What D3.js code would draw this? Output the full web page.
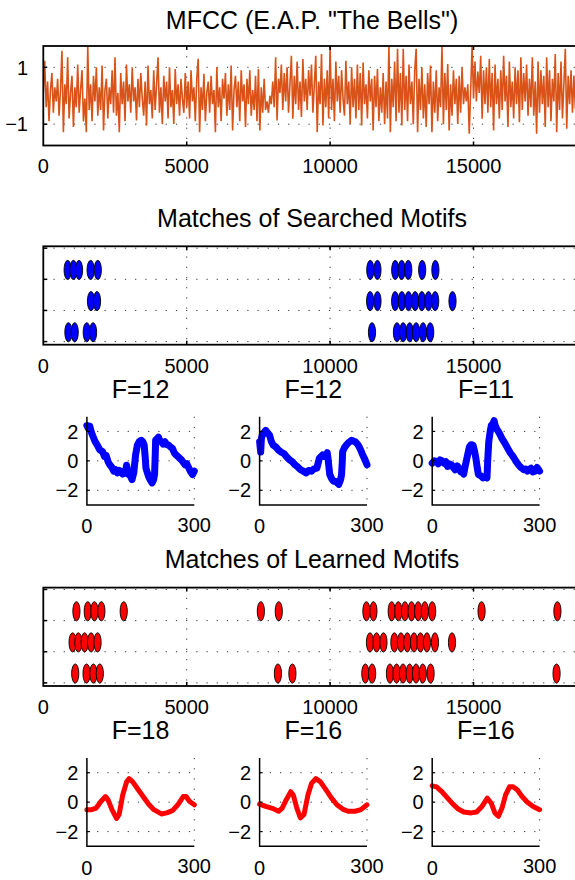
<!DOCTYPE html>
<html>
<head>
<meta charset="utf-8">
<script src="https://cdn.jsdelivr.net/npm/d3@7"></script>
<style>
  body { margin: 0; background: #fff; }
  text { font-family: "Liberation Sans", Arial, Helvetica, sans-serif; fill: #000; }
</style>
</head>
<body>
<div id="chart"></div>
<script>
// ---- data ----
const mfccStep = 50; // samples between stored values
const mfcc = [
  0.1, 1.23, -0.4, 0.5, -0.9, 0.2, 0.8, -0.6, 0.3, -0.2,
  0.6, -0.7, 0.2, 1.58, -1.28, 0.4, -0.3, 1.35, -0.8, 0.1,
  0.7, -1.1, 0.3, -0.4, 1.1, -0.6, 0.2, 0.9, -0.9, -0.1,
  -1.28, 1.74, -0.5, 0.4, -0.9, 0.7, -0.2, 1.0, -0.7, 0.3,
  -0.5, 1.06, -1.22, 0.2, 0.6, -0.8, 0.3, -0.3, 0.9, -0.6,
  1.35, -0.7, 0.1, -1.28, 0.8, -0.3, 0.5, -0.9, 1.1, -0.2,
  0.4, -0.6, 1.0, -0.2, 0.3, -0.87, 0.6, -0.4, 0.8, -0.1,
  -0.7, 0.5, -1.05, 1.06, -0.3, 0.2, -0.8, 0.9, -0.5, 0.4,
  1.35, -0.6, 0.3, -1.0, 0.7, -0.2, 0.5, -0.8, 1.0, -0.4,
  0.2, -0.99, 0.94, -0.3, 0.4, -0.7, 0.6, -0.1, -0.6, 0.8,
  -0.4, 0.5, -0.8, 0.9, -0.2, 0.3, -0.9, 0.6, 1.3, -1.28,
  0.3, -0.5, 0.77, -0.9, 0.1, 0.5, -0.6, 0.7, -0.3, 0.2,
  -1.28, 1.0, -0.4, 0.3, -0.9, 0.6, -0.1, 0.8, -0.7, 0.4,
  -0.5, 1.06, -1.22, 0.2, 0.7, -0.4, 0.5, -0.9, 0.9, -0.2,
  0.4, -1.1, 0.6, -0.3, 0.9, -0.7, 0.2, -0.5, 0.7, -0.9,
  0.94, -1.22, 0.3, -0.6, 0.6, -0.5, -0.2, -0.6, 0.0, -0.3,
  0.5, -0.4, 1.35, -0.87, 0.6, 0.1, 1.1, -0.5, 0.8, -0.2,
  1.0, -0.6, 0.4, 1.41, -0.81, 0.7, -0.3, 1.2, -0.5, 0.5,
  -0.75, 1.29, -0.2, 0.6, -0.5, 0.9, 0.0, 1.1, -0.6, 0.4,
  1.41, -1.28, 0.5, -0.3, 1.47, -1.05, 0.6, -0.4, 0.9, -0.8,
  1.74, -0.5, 0.6, -0.9, 1.2, -0.2, 0.7, -0.6, 0.9, -0.1,
  -0.7, 1.23, -0.3, 0.5, -0.99, 1.0, -0.4, 0.6, -0.8, 1.1,
  -0.5, 0.8, -1.05, 1.17, -0.3, 0.4, -0.8, 0.9, -0.2, 0.6,
  -1.22, 0.7, -0.4, 0.94, -0.9, 0.3, -0.6, 0.8, -1.0, 0.5,
  -0.8, 1.74, -1.28, 0.6, -0.4, 1.2, -0.9, 1.65, -0.6, 0.8,
  -1.05, 1.65, -0.5, 0.7, -0.9, 1.1, -0.3, 0.5, -1.0, 0.9,
  1.65, -1.28, 0.6, -0.5, 1.0, -0.8, 0.4, -1.1, 0.8, -0.3,
  1.06, -1.28, 0.5, -0.6, 0.9, -0.9, 0.3, -0.4, 1.74, -1.0,
  0.8, -0.5, 1.12, -1.22, 0.4, -0.7, 0.9, -0.3, 0.6, -0.99,
  0.7, -0.6, 1.0, -0.3, 0.3, -0.2, 0.4, -1.34, 0.2, 1.74,
  -0.1, 1.2, -0.2, 0.85, 0.1, 1.41, -0.81, 0.9, -0.3, 1.0,
  -0.6, 1.29, -0.4, 0.8, -1.22, 1.1, -0.3, 0.6, -0.8, 0.9,
  -0.5, 1.41, -0.2, 0.7, -1.1, 1.2, -0.4, 0.5, -0.8, 1.0,
  -0.3, 0.9, -0.93, 1.35, -0.5, 0.8, -0.2, 1.1, -0.7, 0.6,
  -0.4, 1.35, -0.7, 0.5, -1.34, 1.2, -0.6, 0.9, -0.3, 0.7,
  -1.1, 1.35, -0.4, 0.9, -0.9, 0.6, -0.2, 1.47, -1.28, 0.8,
  -0.5, 1.2, -0.8, 0.4, 1.65, -1.16, 0.7, -0.3, 0.9, -0.6,
  0.71, -0.46, 0.4, 0.1, 0.3
];

const xTicks = [0, 5000, 10000, 15000];
const mfccYTicks = [-1, 1];
const rowTicks = [0, 1, 2, 3];
const rowLevels = [2.3, 1.3, 0.3]; // top, middle, bottom row

// match start positions, one list per row (top, middle, bottom)
const searchedMatches = [
  [849, 1050, 1246, 1650, 1900, 11400, 11650, 12270, 12495, 12725, 13210, 13670],
  [1663, 1872, 11395, 11651, 12267, 12500, 12733, 12965, 13198, 13430, 13663, 14267],
  [876, 1095, 1515, 1735, 11460, 12330, 12545, 12775, 13000, 13240, 13490]
];
const learnedMatches = [
  [1155, 1550, 1782, 2025, 2804, 7585, 8210, 11265, 11510, 12147, 12378, 12609, 12840, 13071, 13302, 13558, 15280, 17925],
  [1022, 1222, 1441, 1666, 1892, 11390, 11620, 11860, 12240, 12470, 12690, 12925, 13150, 13375, 13655, 14250],
  [1113, 1508, 1746, 1970, 8180, 8685, 11228, 11465, 12086, 12317, 12541, 12773, 12997, 13229, 13503, 17895]
];

const searchedF = ["F=12", "F=12", "F=11"];
const learnedF = ["F=18", "F=16", "F=16"];
const motifXTicks = [0, 300];
const motifYTicks = [-2, 0, 2];

// motif shapes, [t, value]
const searchedMotifs = [
  [[0,2.4],[4,2.2],[8,2.35],[13,1.9],[18,1.6],[23,1.3],[29,1.07],[36,0.75],[44,0.62],[49,0.3],[54,0.35],
   [59,-0.05],[64,-0.27],[70,-0.45],[75,-0.7],[80,-0.6],[85,-0.82],[90,-0.65],[95,-0.75],[100,-0.9],
   [105,-0.85],[109,-0.55],[111,-0.3],[113,-0.6],[116,-0.93],[121,-1.0],[126,-1.27],[131,-0.8],[136,0.4],
   [141,1.07],[146,1.3],[152,1.4],[156,1.3],[160,1.07],[163,0.2],[165,-0.5],[172,-1.04],[177,-1.3],
   [182,-1.5],[186,-1.3],[189,-0.93],[191,0.5],[192,1.4],[196,1.5],[200,1.6],[204,1.35],[208,1.3],
   [213,1.15],[218,1.3],[223,1.1],[228,1.07],[233,0.95],[239,0.85],[244,0.55],[249,0.4],[256,0.25],
   [264,0.07],[269,-0.1],[274,-0.27],[279,-0.2],[285,-0.5],[290,-0.75],[295,-0.93],[300,-0.7]],
  [[0,1.3],[3,0.6],[5,1.5],[7,1.73],[12,1.9],[17,2.07],[22,1.9],[28,1.73],[33,1.3],[38,1.07],[45,0.95],
   [53,0.73],[60,0.6],[68,0.5],[76,0.25],[84,0.07],[91,-0.05],[99,-0.27],[106,-0.4],[114,-0.6],[122,-0.7],
   [130,-0.82],[137,-0.65],[145,-0.7],[152,-0.55],[160,-0.5],[164,-0.1],[167,0.18],[172,0.3],[176,0.4],
   [181,0.3],[186,0.4],[189,0.55],[191,0.18],[194,-0.5],[196,-0.93],[201,-1.2],[206,-1.38],[213,-1.4],
   [221,-1.6],[226,-1.3],[229,-0.93],[231,0.0],[232,0.62],[237,0.9],[242,1.07],[249,1.25],[257,1.4],
   [262,1.35],[267,1.3],[273,1.15],[278,0.96],[283,0.7],[288,0.4],[294,0.1],[300,-0.27]],
  [[0,-0.16],[6,0.0],[12,-0.04],[17,-0.2],[22,0.07],[27,0.0],[33,-0.16],[38,-0.05],[43,-0.38],[48,-0.2],
   [54,-0.27],[59,-0.45],[64,-0.6],[70,-0.35],[75,-0.5],[80,-0.75],[85,-0.7],[88,-0.9],[92,-0.38],
   [98,0.3],[104,0.96],[109,1.1],[114,1.07],[118,0.7],[122,0.18],[126,-0.5],[129,-0.93],[135,-1.0],
   [142,-1.16],[148,-1.05],[153,-1.16],[155,0.0],[158,1.3],[162,2.0],[165,2.4],[169,2.5],[173,2.73],
   [176,2.4],[180,2.18],[187,1.9],[195,1.51],[203,1.2],[211,0.85],[218,0.55],[226,0.29],[233,0.0],
   [241,-0.27],[248,-0.45],[256,-0.6],[261,-0.55],[266,-0.7],[271,-0.6],[276,-0.5],[281,-0.75],
   [287,-0.7],[293,-0.45],[300,-0.7]]
];
const learnedMotifs = [
  [[0,-0.51],[13,-0.51],[26,-0.4],[39,0.04],[52,0.38],[59,0.16],[70,-0.51],[83,-1.11],[90,-0.84],
   [100,0.49],[111,1.38],[118,1.6],[128,1.38],[141,0.93],[157,0.38],[172,-0.13],[187,-0.51],[208,-0.8],
   [223,-0.73],[239,-0.58],[254,-0.18],[269,0.38],[277,0.38],[287,0.04],[300,-0.18]],
  [[0,-0.13],[17,-0.29],[38,-0.44],[53,-0.62],[63,-0.4],[73,0.09],[87,0.71],[94,0.49],[104,-0.4],
   [114,-1.07],[124,-0.84],[135,0.49],[145,1.27],[157,1.6],[170,1.38],[186,0.82],[201,0.27],[216,-0.18],
   [232,-0.47],[247,-0.62],[267,-0.62],[283,-0.51],[300,-0.18]],
  [[0,1.11],[12,1.04],[27,0.71],[43,0.27],[58,-0.13],[73,-0.47],[88,-0.67],[109,-0.73],[124,-0.67],
   [139,-0.29],[154,0.27],[165,-0.07],[175,-0.73],[185,-0.96],[195,-0.4],[205,0.49],[216,1.04],
   [226,1.04],[238,0.82],[251,0.38],[266,0],[282,-0.29],[300,-0.51]]
];

// ---- layout ----
const W = 575, H = 880;
const X0 = 43.3, X1 = 580.8;
const fmt = d => (d < 0 ? "\u2212" + Math.abs(d) : String(d));

const svg = d3.select("#chart").append("svg")
  .attr("width", W).attr("height", H);

const xLong = d3.scaleLinear().domain([0, 18740]).range([X0, X1]);

function grid(g, x, y, xVals, yVals, x0, x1, y0, y1) {
  const dots = "1.2,9";
  xVals.forEach(v => g.append("line")
    .attr("x1", x(v)).attr("x2", x(v)).attr("y1", y0).attr("y2", y1)
    .attr("stroke", "#333").attr("stroke-width", 1).attr("stroke-dasharray", dots));
  yVals.forEach(v => g.append("line")
    .attr("x1", x0).attr("x2", x1).attr("y1", y(v)).attr("y2", y(v))
    .attr("stroke", "#333").attr("stroke-width", 1).attr("stroke-dasharray", dots));
}

function longTicks(g, x, y, yVals, top, bottom, labelY) {
  xTicks.slice(1).forEach(v => {
    g.append("line").attr("x1", x(v)).attr("x2", x(v)).attr("y1", bottom).attr("y2", bottom - 4)
      .attr("stroke", "#000").attr("stroke-width", 1.5);
    g.append("line").attr("x1", x(v)).attr("x2", x(v)).attr("y1", top).attr("y2", top + 4)
      .attr("stroke", "#000").attr("stroke-width", 1.5);
  });
  yVals.forEach(v => g.append("line").attr("x1", X0).attr("x2", X0 + 4)
    .attr("y1", y(v)).attr("y2", y(v)).attr("stroke", "#000").attr("stroke-width", 1.5));
  g.selectAll("text.xl").data(xTicks).enter().append("text")
    .attr("x", d => x(d)).attr("y", labelY)
    .attr("text-anchor", "middle").attr("font-size", 20).text(d => d);
}

function frame(g, top, bottom) {
  g.append("rect").attr("x", X0).attr("y", top)
    .attr("width", X1 - X0).attr("height", bottom - top)
    .attr("fill", "none").attr("stroke", "#000").attr("stroke-width", 1.8);
}

// ---- top: MFCC signal ----
{
  const top = 46, bottom = 145.5;
  const y = d3.scaleLinear().domain([-1.75, 1.75]).range([bottom, top]);
  const g = svg.append("g");
  g.append("text").attr("x", (X0 + X1) / 2).attr("y", 28.5)
    .attr("text-anchor", "middle").attr("font-size", 25).text('MFCC (E.A.P. "The Bells")');
  svg.append("clipPath").attr("id", "clipTop").append("rect")
    .attr("x", X0).attr("y", top).attr("width", X1 - X0).attr("height", bottom - top);
  grid(g, xLong, y, xTicks.slice(1), mfccYTicks, X0, X1, top, bottom);
  g.append("path").datum(mfcc)
    .attr("clip-path", "url(#clipTop)")
    .attr("fill", "none").attr("stroke", "#d95319").attr("stroke-width", 1.6)
    .attr("d", d3.line().x((d, i) => xLong(i * mfccStep)).y(d => y(d)));
  frame(g, top, bottom);
  longTicks(g, xLong, y, mfccYTicks, top, bottom, 173);
  g.selectAll("text.yl").data(mfccYTicks).enter().append("text")
    .attr("x", 28).attr("y", d => y(d)).attr("dy", "0.36em")
    .attr("text-anchor", "end").attr("font-size", 20).text(fmt);
}

// ---- match strips + motif panels ----
function section(dy, title, matches, fill, fLabels, motifs, color, thick) {
  const top = 246.3 + dy, bottom = 344.7 + dy;
  const y = d3.scaleLinear().domain([-0.1, 3.06]).range([bottom, top]);
  const g = svg.append("g");
  g.append("text").attr("x", (X0 + X1) / 2).attr("y", 226.7 + dy)
    .attr("text-anchor", "middle").attr("font-size", 25).text(title);
  grid(g, xLong, y, xTicks.slice(1), rowTicks, X0, X1, top, bottom);
  matches.forEach((row, r) => {
    g.selectAll(null).data(row).enter().append("ellipse")
      .attr("cx", d => xLong(d)).attr("cy", y(rowLevels[r]))
      .attr("rx", 3.6).attr("ry", 9.6)
      .attr("fill", fill).attr("stroke", "#000").attr("stroke-width", 0.9);
  });
  frame(g, top, bottom);
  longTicks(g, xLong, y, rowTicks, top, bottom, 372.5 + dy);

  // small motif plots
  const lefts = [86.9, 259.6, 432.2];
  lefts.forEach((left, k) => {
    const sTop = 416.7 + dy, sBottom = 505 + dy, right = left + 107.4;
    const xs = d3.scaleLinear().domain([0, 300]).range([left, right]);
    const ys = d3.scaleLinear().domain([-3, 3]).range([sBottom, sTop]);
    const sg = svg.append("g");
    sg.append("text").attr("x", (left + right) / 2).attr("y", 397.7 + dy)
      .attr("text-anchor", "middle").attr("font-size", 25).text(fLabels[k]);
    grid(sg, xs, ys, [300], motifYTicks, left, right, sTop, sBottom);
    sg.append("path").datum(motifs[k])
      .attr("fill", "none").attr("stroke", color).attr("stroke-width", thick)
      .attr("stroke-linejoin", "round").attr("stroke-linecap", "round")
      .attr("d", d3.line().x(d => xs(d[0])).y(d => ys(d[1])));
    sg.append("path")
      .attr("d", `M${left},${sTop}V${sBottom}H${right}`)
      .attr("fill", "none").attr("stroke", "#000").attr("stroke-width", 1.5);
    motifYTicks.forEach(v => sg.append("line").attr("x1", left).attr("x2", left + 3)
      .attr("y1", ys(v)).attr("y2", ys(v)).attr("stroke", "#000").attr("stroke-width", 1.2));
    sg.selectAll("text.yl").data(motifYTicks).enter().append("text")
      .attr("x", left - 8.5).attr("y", d => ys(d)).attr("dy", "0.36em")
      .attr("text-anchor", "end").attr("font-size", 20).text(fmt);
    sg.selectAll("text.xl").data(motifXTicks).enter().append("text")
      .attr("x", d => xs(d)).attr("y", d => (d === 0 ? 533.3 : 531.7) + dy)
      .attr("text-anchor", "middle").attr("font-size", 20).text(d => d);
  });
}

section(0, "Matches of Searched Motifs", searchedMatches, "#0000ff", searchedF, searchedMotifs, "#0000ff", 7);
section(341.3, "Matches of Learned Motifs", learnedMatches, "#ff0000", learnedF, learnedMotifs, "#ff0000", 5);
</script>
</body>
</html>
